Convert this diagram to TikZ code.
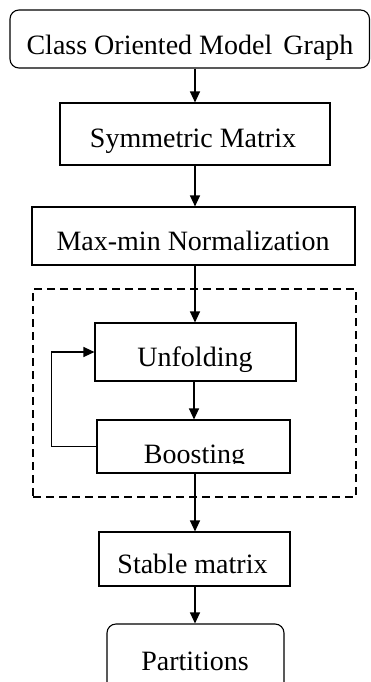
\documentclass[tikz,border=0pt]{standalone}
\usepackage{fontspec}
\setmainfont{Liberation Serif}
\usetikzlibrary{arrows.meta,calc}
\begin{document}
\begin{tikzpicture}[x=1pt,y=-1pt,
  box/.style={draw=black,line width=1.1pt,inner sep=0pt,fill=none},
  rbox/.style={box,rounded corners=9pt},
  gbox/.style={draw=black,line width=1.1pt,dash pattern=on 8pt off 5pt,inner sep=0pt},
  txt/.style={anchor=base,inner sep=0pt,font=\fontsize{28}{31}\selectfont},
  arr/.style={draw=black,line width=1.2pt,-{Triangle[length=11pt,width=10pt]}}]
\useasboundingbox (0,0) rectangle (371,682);
\clip (0,0) rectangle (371,682);
% boxes
\node[rbox,minimum width=359.5pt,minimum height=58pt] (top) at (189.75,39) {};
\node[box,minimum width=270pt,minimum height=62pt] (sym) at (195,134) {};
\node[box,minimum width=323pt,minimum height=58pt] (mm) at (193.5,236) {};
\node[gbox,minimum width=323pt,minimum height=208pt] (grp) at (194.5,393) {};
\node[box,minimum width=201pt,minimum height=58pt] (unf) at (195.5,352) {};
\node[box,minimum width=193pt,minimum height=53pt] (boo) at (193.5,446.5) {};
\node[box,minimum width=191pt,minimum height=54pt] (stb) at (194.5,559) {};
\node[rbox,minimum width=177pt,minimum height=80pt] (par) at (195.5,664) {};
% texts
\node[txt] (ttop) at (190,55) {Class Oriented Model\hspace{0.15em} Graph};
\node[txt] (tsym) at (193,147) {Symmetric Matrix};
\node[txt] (tmm) at (193,250) {Max-min Normalization};
\node[txt] (tunf) at (195,366) {Unfolding};
\begin{scope}
\clip (97,420) rectangle (290,463.5);
\node[txt] (tboo) at (194.5,463) {Boosting};
\end{scope}
\node[txt] (tstb) at (192.5,573) {Stable matrix};
\node[txt] (tpar) at (195,670) {Partitions};
% connectors
\coordinate (ax) at (195,0);
\draw[arr] (top.south -| ax) -- (sym.north -| ax);
\draw[arr] (sym.south -| ax) -- (mm.north -| ax);
\draw[arr] (mm.south -| ax) -- (unf.north -| ax);
\draw[arr] ($(unf.south -| ax)+(-1,0)$) -- ($(boo.north -| ax)+(-1,0)$);
\draw[arr] (boo.south -| ax) -- (stb.north -| ax);
\draw[arr] (stb.south -| ax) -- (par.north -| ax);
\draw[arr] (boo.west) -- ++(-45,0) |- (unf.west);
\end{tikzpicture}
\end{document}
